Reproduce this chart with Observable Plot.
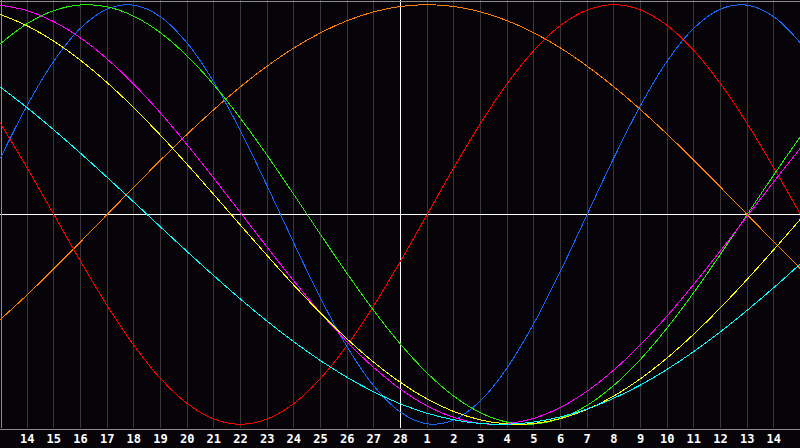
<!DOCTYPE html>
<html>
<head>
<meta charset="utf-8">
<script src="https://cdn.jsdelivr.net/npm/d3@7"></script>
<script src="https://cdn.jsdelivr.net/npm/@observablehq/plot@0.6"></script>
<style>
  html, body { margin: 0; padding: 0; background: #060409; }
  #chart { width: 800px; height: 448px; overflow: hidden; }
</style>
</head>
<body>
<div id="chart"></div>
<script>
// Day positions (0 = left edge, 30 = right edge); ticks on 1..29
const days = d3.range(0, 31);
const tickDays = d3.range(1, 30);
const dayLabels = ["14","15","16","17","18","19","20","21","22","23","24","25","26","27","28",
                   "1","2","3","4","5","6","7","8","9","10","11","12","13","14"];
const todayIndex = 15;

// Series values, one value per day position 0..30
const emotional = [0.4339,0.2225,0,-0.2225,-0.4339,-0.6235,-0.7818,-0.9010,-0.9749,-1,-0.9749,-0.9010,-0.7818,-0.6235,-0.4339,-0.2225,0,0.2225,0.4339,0.6235,0.7818,0.9010,0.9749,1,0.9749,0.9010,0.7818,0.6235,0.4339,0.2225,0];
const physical = [0.2698,0.5196,0.7308,0.8879,0.9791,0.9977,0.9423,0.8170,0.6313,0.3984,0.1362,-0.1362,-0.3984,-0.6313,-0.8170,-0.9423,-0.9977,-0.9791,-0.8879,-0.7308,-0.5196,-0.2698,0,0.2698,0.5196,0.7308,0.8879,0.9791,0.9977,0.9423,0.8170];
const intellectual = [0.8146,0.9096,0.9718,0.9989,0.9898,0.9450,0.8660,0.7557,0.6182,0.4582,0.2817,0.0951,-0.0951,-0.2817,-0.4582,-0.6182,-0.7557,-0.8660,-0.9450,-0.9898,-0.9989,-0.9718,-0.9096,-0.8146,-0.6901,-0.5406,-0.3717,-0.1893,0,0.1893,0.3717];
const intuitive = [0.9972,0.9714,0.9190,0.8418,0.7412,0.6207,0.4833,0.3325,0.1728,0.0084,-0.1564,-0.3168,-0.4686,-0.6077,-0.7300,-0.8326,-0.9124,-0.9673,-0.9959,-0.9972,-0.9714,-0.9190,-0.8418,-0.7412,-0.6207,-0.4833,-0.3325,-0.1728,-0.0084,0.1564,0.3168];
const aesthetic = [0.9533,0.8992,0.8258,0.7349,0.6284,0.5085,0.3777,0.2389,0.0948,-0.0511,-0.1959,-0.3366,-0.4701,-0.5936,-0.7045,-0.8003,-0.8792,-0.9392,-0.9791,-0.9983,-0.9962,-0.9728,-0.9287,-0.8648,-0.7825,-0.6834,-0.5700,-0.4442,-0.3090,-0.1673,-0.0220];
const awareness = [-0.5,-0.3827,-0.2588,-0.1305,0,0.1305,0.2588,0.3827,0.5,0.6088,0.7071,0.7934,0.8660,0.9239,0.9659,0.9914,1,0.9914,0.9659,0.9239,0.8660,0.7934,0.7071,0.6088,0.5,0.3827,0.2588,0.1305,0,-0.1305,-0.2588];
const spiritual = [0.6069,0.5086,0.4031,0.2920,0.1769,0.0593,-0.0593,-0.1769,-0.2920,-0.4031,-0.5086,-0.6069,-0.6965,-0.7764,-0.8457,-0.9028,-0.9473,-0.9785,-0.9961,-0.9996,-0.9890,-0.9646,-0.9267,-0.8757,-0.8125,-0.7379,-0.6527,-0.5585,-0.4566,-0.3482,-0.2348];

const seriesList = [
  {name: "awareness", values: awareness, color: "#ff8000"},
  {name: "emotional", values: emotional, color: "#ff0000"},
  {name: "physical", values: physical, color: "#1468ff"},
  {name: "intellectual", values: intellectual, color: "#22f000"},
  {name: "intuitive", values: intuitive, color: "#ff00ff"},
  {name: "aesthetic", values: aesthetic, color: "#ffff00"},
  {name: "spiritual", values: spiritual, color: "#00ffff"}
];

const rows = seriesList.flatMap(s => days.map((d, i) => ({series: s.name, day: d, value: s.values[i]})));

const gridDays = tickDays.filter(d => d !== todayIndex);

const chart = Plot.plot({
  width: 800,
  height: 448,
  marginTop: 0,
  marginLeft: 0,
  marginRight: 0,
  marginBottom: 20,
  style: {background: "#060409", overflow: "visible"},
  x: {domain: [0, 30], axis: null},
  y: {domain: [-1.02, 1.02], axis: null},
  color: {type: "ordinal", domain: seriesList.map(s => s.name), range: seriesList.map(s => s.color)},
  marks: [
    Plot.ruleX(gridDays, {x: d => d, stroke: "#383838", strokeWidth: 1, shapeRendering: "crispEdges"}),
    Plot.ruleX([todayIndex], {x: d => d, stroke: "#ffffff", strokeWidth: 1.5, shapeRendering: "crispEdges"}),
    Plot.ruleY([0], {y: d => d, stroke: "#ffffff", strokeWidth: 1.5, shapeRendering: "crispEdges"}),
    Plot.ruleY([1.02], {y: d => d, stroke: "#8c8c8c", dy: 0.5, strokeWidth: 1, shapeRendering: "crispEdges"}),
    Plot.ruleY([-1.02], {y: d => d, stroke: "#8c8c8c", dy: 0.5, strokeWidth: 1, shapeRendering: "crispEdges"}),
    Plot.ruleX([0], {x: d => d, stroke: "#8c8c8c", dx: 0.5, strokeWidth: 1, shapeRendering: "crispEdges"}),
    Plot.line(rows, {x: "day", y: "value", z: "series", stroke: "series", strokeWidth: 1, curve: "catmull-rom", shapeRendering: "crispEdges"}),
    Plot.axisX({
      ticks: tickDays,
      tickFormat: d => dayLabels[d - 1],
      tickSize: 0,
      tickPadding: 6,
      fill: "#ffffff",
      color: "#ffffff",
      fontSize: 12,
      fontWeight: "bold",
      fontFamily: "DejaVu Sans Mono",
      label: null
    })
  ]
});
document.getElementById("chart").appendChild(chart);
</script>
</body>
</html>
